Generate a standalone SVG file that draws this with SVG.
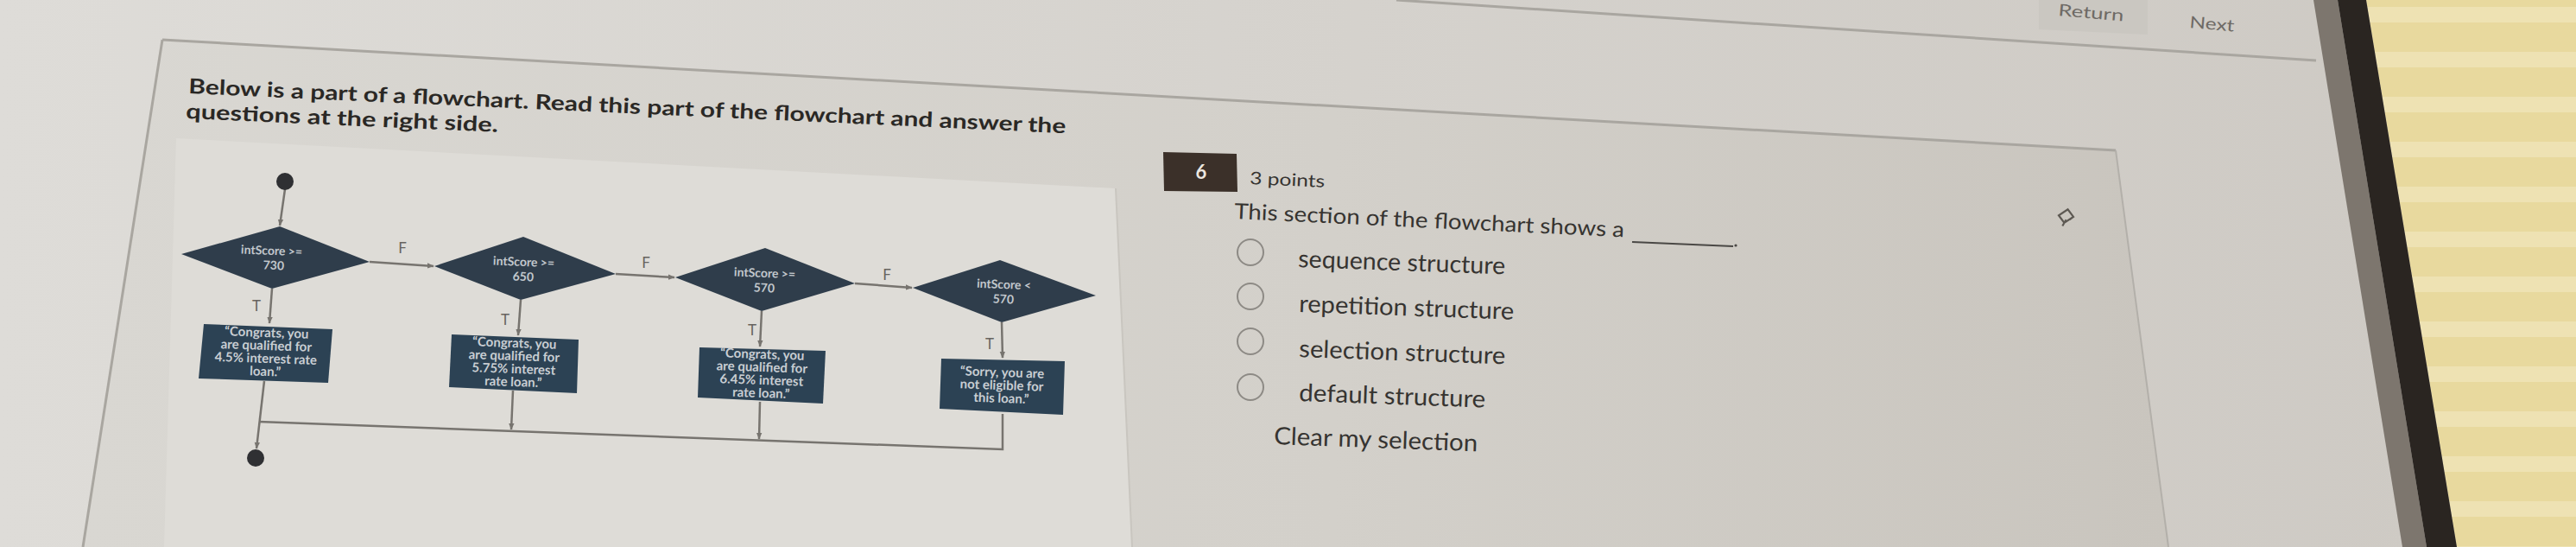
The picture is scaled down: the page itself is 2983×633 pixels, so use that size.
<svg xmlns="http://www.w3.org/2000/svg" width="2983" height="633" viewBox="0 0 2983 633">
<defs>
<style>
.h{font-family:Lato,"Liberation Sans",sans-serif;font-weight:700;font-size:24px;fill:#2a2825}
.q{font-family:Lato,"Liberation Sans",sans-serif;font-size:25px;fill:#363431}
.o{font-family:Lato,"Liberation Sans",sans-serif;font-size:28px;fill:#363431}
.nav{font-family:Lato,"Liberation Sans",sans-serif;font-size:19px;fill:#6e6a65}
.lbl{font-family:Lato,"Liberation Sans",sans-serif;font-size:17px;fill:#67645f;text-anchor:middle}
.dia{fill:#2f3d4b}
.box{fill:#2c4254}
.nt{font-family:Lato,"Liberation Sans",sans-serif;font-weight:700;font-size:14px;fill:#c2c8cd;text-anchor:middle}
.bt{font-family:Lato,"Liberation Sans",sans-serif;font-weight:700;font-size:15px;fill:#c9ced3;text-anchor:middle}
.conn{stroke:#77746f;stroke-width:2.5;fill:none}
.term{fill:#2f3033}
.radio{fill:none;stroke:#8d8a85;stroke-width:2}
.edge{stroke:#a9a6a0;stroke-width:3;fill:none}
</style>
<marker id="arr" viewBox="0 0 10 10" refX="9" refY="5" markerWidth="8" markerHeight="8" markerUnits="userSpaceOnUse" orient="auto"><path d="M0,1 L10,5 L0,9 z" fill="#77746f"/></marker>
<linearGradient id="pageG" x1="0" y1="0" x2="1" y2="0"><stop offset="0" stop-color="#dedcd8"/><stop offset="1" stop-color="#cdc9c3"/></linearGradient>
<linearGradient id="cardG" x1="0" y1="0" x2="1" y2="0"><stop offset="0" stop-color="#d9d7d2"/><stop offset="0.6" stop-color="#d3d0ca"/><stop offset="1" stop-color="#c9c5be"/></linearGradient>
<pattern id="blinds" width="60" height="52" patternUnits="userSpaceOnUse"><rect width="60" height="52" fill="#e8d99e"/><rect y="8" width="60" height="18" fill="#eee2b3"/></pattern>
</defs>

<g id="background">
<rect width="2983" height="633" fill="url(#pageG)"/>
<polygon points="188,46 2450,174 2511,633 96,633" fill="url(#cardG)"/>
<polygon points="204,160 1292,218 1311,633 190,633" fill="#dedcd7"/>
<polygon points="2361,0 2487,0 2487,40 2361,34" fill="#cac7c1"/>
<path class="edge" d="M1617,0 L2682,70"/>
<path class="edge" d="M188,46 L2450,174"/>
<path class="edge" d="M188,46 L96,633"/>
<path d="M2450,174 L2511,633" stroke="#b3b0aa" stroke-width="2" fill="none"/>
<path d="M1292,218 L1311,633" stroke="#c9c6c0" stroke-width="2" fill="none"/>
<polygon points="2740,0 2983,0 2983,633 2845,633" fill="url(#blinds)"/>
<polygon points="2679,0 2707,0 2810,633 2782,633" fill="#7d766e"/>
<polygon points="2707,0 2740,0 2845,633 2810,633" fill="#2a2521"/>
</g>

<g id="header-nav">
<text class="nav" x="2383" y="18" textLength="76" lengthAdjust="spacingAndGlyphs" transform="rotate(5 2383 18)">Return</text>
<text class="nav" x="2535" y="32" textLength="52" lengthAdjust="spacingAndGlyphs" transform="rotate(5 2535 32)">Next</text>
</g>

<g id="heading">
<text class="h" x="218" y="108" textLength="1017" lengthAdjust="spacingAndGlyphs" transform="rotate(2.6 218 108)">Below is a part of a flowchart. Read this part of the flowchart and answer the</text>
<text class="h" x="215" y="137" textLength="362" lengthAdjust="spacingAndGlyphs" transform="rotate(2.5 215 137)">questions at the right side.</text>
</g>

<g id="connectors">
<path class="conn" d="M330,219 L324,261" marker-end="url(#arr)"/>
<path class="conn" d="M428,303 L502,308" marker-end="url(#arr)"/>
<path class="conn" d="M713,317 L781,321" marker-end="url(#arr)"/>
<path class="conn" d="M990,328 L1056,333" marker-end="url(#arr)"/>
<path class="conn" d="M315,334 L312,374" marker-end="url(#arr)"/>
<path class="conn" d="M603,347 L600,388" marker-end="url(#arr)"/>
<path class="conn" d="M882,360 L880,401" marker-end="url(#arr)"/>
<path class="conn" d="M1160,373 L1161,414" marker-end="url(#arr)"/>
<path class="conn" d="M306,441 L297,519" marker-end="url(#arr)"/>
<path class="conn" d="M594,452 L592,497" marker-end="url(#arr)"/>
<path class="conn" d="M880,465 L879,508" marker-end="url(#arr)"/>
<path class="conn" d="M1161,479 L1161,520 L300,488"/>
<text class="lbl" x="466" y="293">F</text>
<text class="lbl" x="748" y="310">F</text>
<text class="lbl" x="1027" y="324">F</text>
<text class="lbl" x="297" y="360">T</text>
<text class="lbl" x="585" y="376">T</text>
<text class="lbl" x="871" y="388">T</text>
<text class="lbl" x="1146" y="404">T</text>
</g>

<g id="start"><circle class="term" cx="330" cy="210" r="10"/></g>

<g id="d1">
<polygon class="dia" points="210,294 324,262 428,303 315,334"/>
<g transform="rotate(2.3 316 303)"><text class="nt" x="314" y="295">intScore &gt;=</text><text class="nt" x="317" y="312">730</text></g>
</g>
<g id="d2">
<polygon class="dia" points="503,308 606,274 713,317 603,347"/>
<g transform="rotate(2.3 606 316)"><text class="nt" x="606" y="308">intScore &gt;=</text><text class="nt" x="606" y="325">650</text></g>
</g>
<g id="d3">
<polygon class="dia" points="782,321 886,287 990,328 882,360"/>
<g transform="rotate(2.3 885 329)"><text class="nt" x="885" y="321">intScore &gt;=</text><text class="nt" x="885" y="338">570</text></g>
</g>
<g id="d4">
<polygon class="dia" points="1057,333 1158,301 1269,342 1160,373"/>
<g transform="rotate(2.3 1162 342)"><text class="nt" x="1162" y="334">intScore &lt;</text><text class="nt" x="1162" y="351">570</text></g>
</g>

<g id="box1">
<polygon class="box" points="236,375 385,381 380,443 230,438"/>
<g transform="rotate(2 308 409)"><text class="bt" x="308" y="390">&#8220;Congrats, you</text><text class="bt" x="308" y="405">are qualified for</text><text class="bt" x="308" y="420">4.5% interest rate</text><text class="bt" x="308" y="435">loan.&#8221;</text></g>
</g>
<g id="box2">
<polygon class="box" points="523,387 670,393 668,455 520,448"/>
<g transform="rotate(2 595 421)"><text class="bt" x="595" y="402">&#8220;Congrats, you</text><text class="bt" x="595" y="417">are qualified for</text><text class="bt" x="595" y="432">5.75% interest</text><text class="bt" x="595" y="447">rate loan.&#8221;</text></g>
</g>
<g id="box3">
<polygon class="box" points="810,402 956,406 953,467 808,460"/>
<g transform="rotate(2 882 434)"><text class="bt" x="882" y="415">&#8220;Congrats, you</text><text class="bt" x="882" y="430">are qualified for</text><text class="bt" x="882" y="445">6.45% interest</text><text class="bt" x="882" y="460">rate loan.&#8221;</text></g>
</g>
<g id="box4">
<polygon class="box" points="1090,415 1233,418 1231,480 1088,473"/>
<g transform="rotate(2 1160 446)"><text class="bt" x="1160" y="436">&#8220;Sorry, you are</text><text class="bt" x="1160" y="451">not eligible for</text><text class="bt" x="1160" y="466">this loan.&#8221;</text></g>
</g>

<g id="end"><circle class="term" cx="296" cy="530" r="10"/></g>

<g id="question">
<polygon points="1347,176 1432,178 1433,222 1348,221" fill="#3b3029"/>
<text x="1391" y="207" text-anchor="middle" style="font-family:Lato,'Liberation Sans',sans-serif;font-weight:700;font-size:22px;fill:#ece7e0">6</text>
<text class="q" x="1447" y="213" style="font-size:20px" textLength="87" lengthAdjust="spacingAndGlyphs" transform="rotate(2.5 1447 213)">3 points</text>
<text class="q" x="1429" y="253" textLength="452" lengthAdjust="spacingAndGlyphs" transform="rotate(2.7 1429 253)">This section of the flowchart shows a</text>
<path d="M1890,280 L2007,285" stroke="#4a4845" stroke-width="2"/>
<circle cx="2010" cy="284" r="1.6" fill="#4a4845"/>
<path d="M2386,260 l6,-6 m-3,3 l-4,-10 l12,-4 l4,10 z m7,-2 l5,-2" stroke="#5d5953" stroke-width="2.2" fill="none" transform="rotate(-15 2393 252)"/>
</g>

<g id="options">
<circle class="radio" cx="1448" cy="292" r="15"/>
<circle class="radio" cx="1448" cy="343" r="15"/>
<circle class="radio" cx="1448" cy="395" r="15"/>
<circle class="radio" cx="1448" cy="448" r="15"/>
<text class="o" x="1503" y="309" textLength="240" lengthAdjust="spacingAndGlyphs" transform="rotate(2 1503 309)">sequence structure</text>
<text class="o" x="1504" y="361" textLength="249" lengthAdjust="spacingAndGlyphs" transform="rotate(2 1504 361)">repetition structure</text>
<text class="o" x="1504" y="413" textLength="239" lengthAdjust="spacingAndGlyphs" transform="rotate(2 1504 413)">selection structure</text>
<text class="o" x="1504" y="464" textLength="216" lengthAdjust="spacingAndGlyphs" transform="rotate(2 1504 464)">default structure</text>
<text class="o" x="1475" y="514" textLength="236" lengthAdjust="spacingAndGlyphs" transform="rotate(2 1475 514)">Clear my selection</text>
</g>
</svg>
